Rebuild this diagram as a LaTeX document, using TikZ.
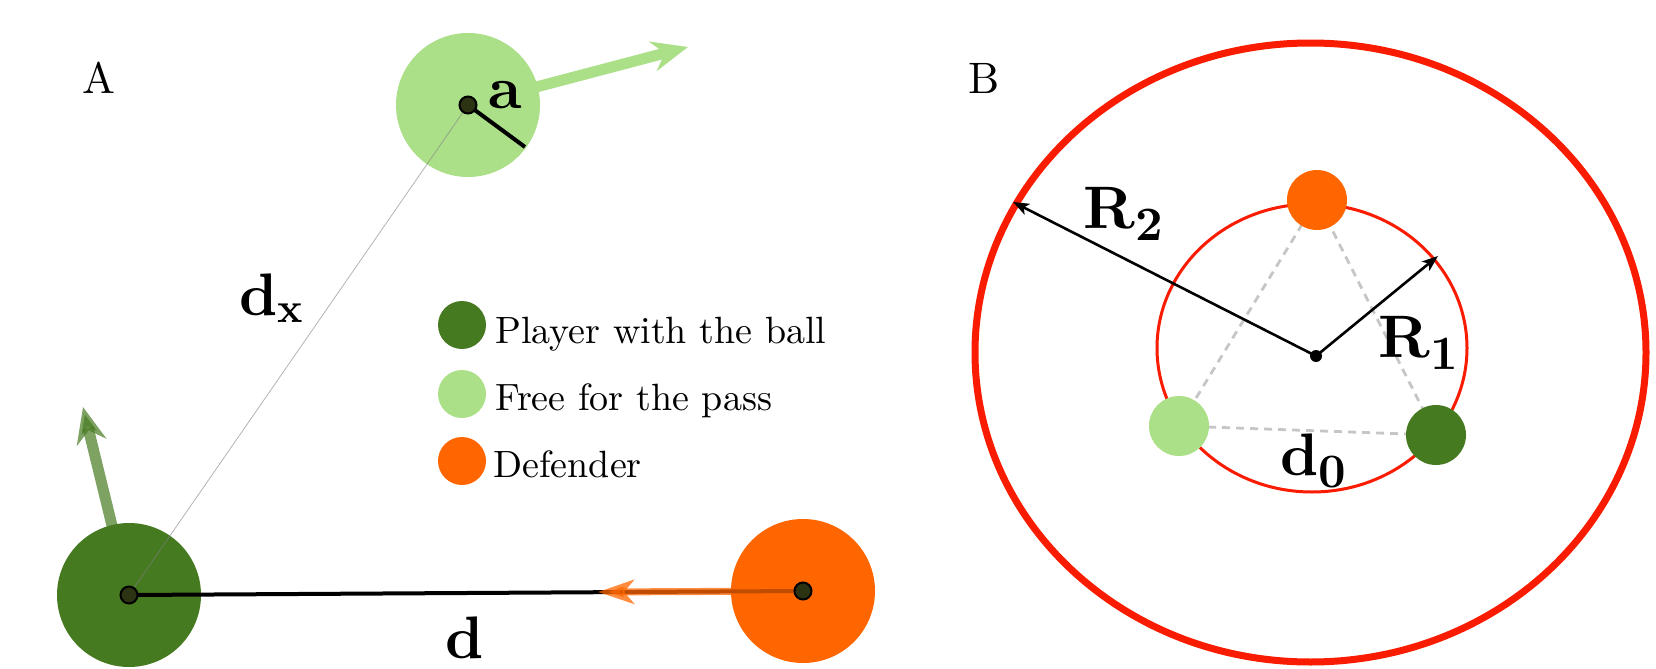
\documentclass[tikz,border=0pt]{standalone}
\usepackage{fontspec}
\setmainfont{lmroman10-regular}[Extension=.otf,BoldFont=lmroman10-bold,ItalicFont=lmroman10-italic]
\usepackage[dvipsnames]{xcolor}
\usepackage{tikz}
\usetikzlibrary{arrows.meta}

\definecolor{ballgreen}{RGB}{70,122,32}
\definecolor{freegreen}{RGB}{171,223,136}
\definecolor{deforange}{RGB}{255,102,0}
\definecolor{zonered}{RGB}{250,28,0}
\definecolor{dotfill}{RGB}{43,51,18}

\newcommand\lsub[1]{\raisebox{-6pt}{\fontsize{24}{24}\selectfont\bfseries #1}}

\begin{document}
\begin{tikzpicture}[x=0.5pt,y=-0.5pt,
  dot/.style={fill=dotfill,draw=black,line width=1pt},
  lab/.style={font=\fontsize{30}{30}\selectfont\bfseries,inner sep=0pt},
  panel/.style={font=\fontsize{22}{22}\selectfont,inner sep=0pt},
  leg/.style={font=\fontsize{19}{19}\selectfont,anchor=base west,inner sep=0pt},
  legdot/.style={circle,minimum size=24pt,inner sep=0pt},
  move/.style={line width=5.5pt,-{Stealth[length=18pt,width=15pt,inset=6pt]}},
  tri/.style={gray!45,dash pattern=on 4pt off 3pt,line width=1.4pt},
  radarrow/.style={line width=1.3pt,-{Stealth[length=8pt,width=6pt,inset=2pt]}}]
  \useasboundingbox (0,0) rectangle (1656,669);

  % A
  \node[panel] (panA) at (99,78) {A};
  \coordinate (ball) at (129,595);
  \coordinate (free) at (468,105);
  \coordinate (def) at (803,591);
  \coordinate (ballrun) at (83,407);
  \coordinate (freerun) at (688,47);
  \coordinate (defrun) at (598,592);
  \coordinate (freeedge) at (525,147);
  \draw[ballgreen,opacity=0.7,move] (ball) -- (ballrun);
  \fill[ballgreen] (ball) circle (36pt);
  \draw[freegreen,move] (free) -- (freerun);
  \fill[freegreen] (free) circle (36pt);
  \fill[deforange] (def) circle (36pt);
  \draw[line width=2pt] (ball) -- (def);
  \draw[deforange,opacity=0.75,line width=3.5pt,-{Stealth[length=18pt,width=12pt,inset=5pt]}] (def) -- (defrun);
  \draw[gray,line width=0.4pt,opacity=0.6] (ball) -- (free);
  \draw[line width=2pt] (free) -- (freeedge);
  \draw[dot] (ball) circle (4.25pt);
  \draw[dot] (free) circle (4.25pt);
  \draw[dot] (def) circle (4.25pt);
  \node[lab] (alab) at (505,95) {a};
  \node[lab] (dxlab) at (272,298) {d\textsubscript{x}};
  \node[lab] (dlab) at (465,638) {d};

  % legend
  \node[legdot,fill=ballgreen] (legball) at (462,325) {};
  \node[legdot,fill=freegreen] (legfree) at (462,394) {};
  \node[legdot,fill=deforange] (legdef) at (462,461) {};
  \node[leg] (legballtxt) at (495,343) {Player with the ball};
  \node[leg] (legfreetxt) at (495,410) {Free for the pass};
  \node[leg] (legdeftxt) at (493,477) {Defender};

  % B
  \node[panel] (panB) at (984,78) {B};
  \draw[zonered,line width=3.5pt] (1310.5,352.5) ellipse (167.75pt and 154.75pt);
  \draw[zonered,line width=1.5pt] (1312,348) ellipse (77.5pt and 72pt);
  \coordinate (ctr) at (1316,356);
  \coordinate (bdef) at (1317,200);
  \coordinate (bfree) at (1179,426);
  \coordinate (bball) at (1436,435);
  \coordinate (rone) at (1438,256);
  \coordinate (rtwo) at (1013,202);
  \draw[tri] (bdef) -- (bfree) -- (bball) -- cycle;
  \fill[deforange] (bdef) circle (15pt);
  \fill[freegreen] (bfree) circle (15pt);
  \fill[ballgreen] (bball) circle (15pt);
  \draw[radarrow] (ctr) -- (rone);
  \draw[radarrow] (ctr) -- (rtwo);
  \fill (ctr) circle (3pt);
  \node[lab] (rtwolab) at (1123,214) {R\lsub{2}};
  \node[lab] (ronelab) at (1418,343) {R\lsub{1}};
  \node[lab] (dzerolab) at (1313,461) {d\lsub{0}};
\end{tikzpicture}
\end{document}
